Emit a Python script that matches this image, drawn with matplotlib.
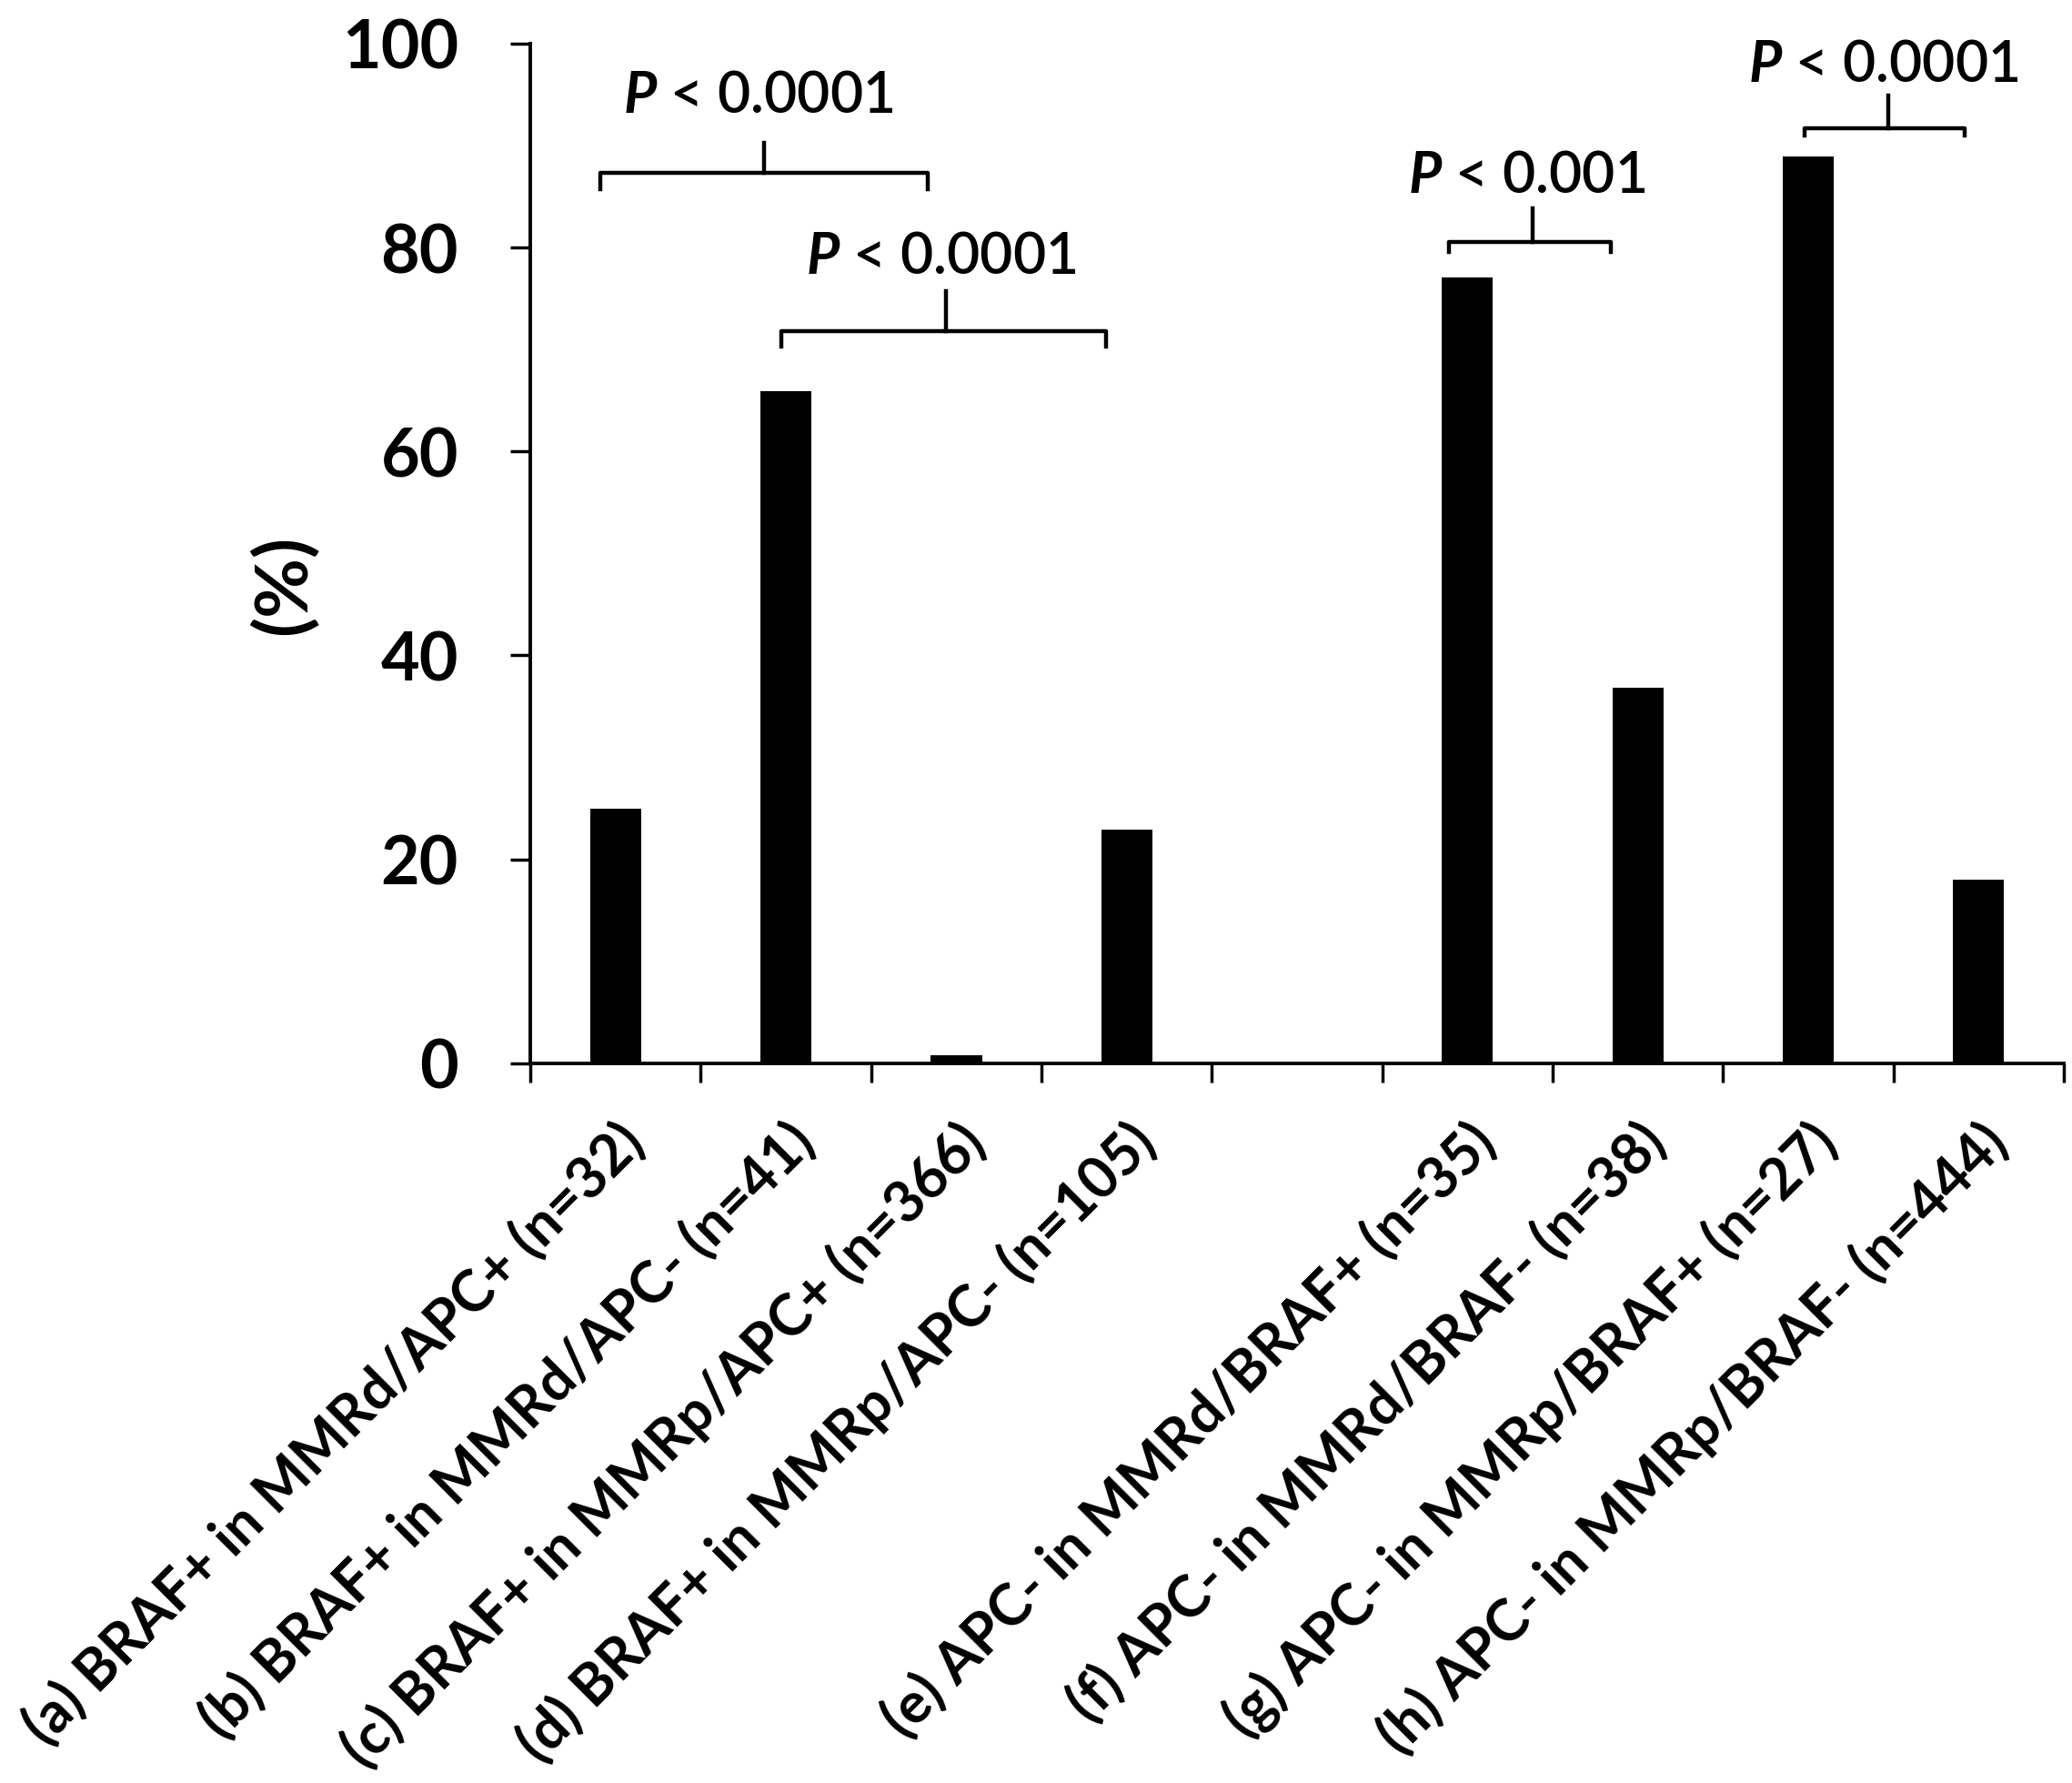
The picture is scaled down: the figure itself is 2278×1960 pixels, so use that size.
import numpy as np
import matplotlib.pyplot as plt

plt.rcParams['font.family'] = ['Lato', 'DejaVu Sans']
plt.rcParams['mathtext.fontset'] = 'custom'
plt.rcParams['mathtext.bfit'] = 'Lato:bold:italic'
plt.rcParams['mathtext.rm'] = 'Lato'

# categories (empty slot between the two groups)
labels = ['(a) BRAF+ in MMRd/APC+ (n=32)',
          '(b) BRAF+ in MMRd/APC- (n=41)',
          '(c) BRAF+ in MMRp/APC+ (n=366)',
          '(d) BRAF+ in MMRp/APC- (n=105)',
          '',
          '(e) APC- in MMRd/BRAF+ (n=35)',
          '(f) APC- in MMRd/BRAF- (n=38)',
          '(g) APC- in MMRp/BRAF+ (n=27)',
          '(h) APC- in MMRp/BRAF- (n=444)']
values = [25.0, 65.9, 0.8, 22.9, np.nan, 77.1, 36.8, 88.9, 18.0]

# significance brackets: x left, x right, x stem, y line, y ends, y stem top, y text, text
br_x0 = [-0.09, 0.97, 4.89, 6.98]
br_x1 = [1.83, 2.88, 5.84, 7.92]
br_xs = [0.87, 1.94, 5.38, 7.47]
br_y = [87.3, 71.8, 80.5, 91.7]
br_yend = [85.7, 70.3, 79.6, 91.0]
br_ytop = [90.3, 75.7, 83.8, 94.9]
br_ytxt = [94.8, 79.0, 87.0, 97.8]
br_txt = ['0.0001', '0.0001', '0.001', '0.0001']

fig = plt.figure(figsize=(22.78, 19.6), dpi=100)
ax = fig.add_axes([0.256, 0.4036, 0.740, 0.572])

x = np.arange(len(labels))
ax.bar(x, values, width=0.3, color='black')

for i in range(len(br_x0)):
    ax.plot([br_x0[i], br_x0[i], br_x1[i], br_x1[i]],
            [br_yend[i], br_y[i], br_y[i], br_yend[i]], color='black', lw=3.2)
    ax.plot([br_xs[i], br_xs[i]], [br_y[i], br_ytop[i]], color='black', lw=3.2)
    ax.text(br_xs[i] - 0.03, br_ytxt[i], r'$\mathbfit{P}$ < ' + br_txt[i],
            ha='center', va='center', fontsize=45, fontweight='semibold')

ax.set_xlim(-0.5, len(labels) - 0.5)
ax.set_ylim(0, 100)
ax.set_yticks([0, 20, 40, 60, 80, 100])
ax.set_xticks(np.arange(-0.5, len(labels), 1.0))
ax.set_xticklabels([])
ax.set_xticks(x, minor=True)
ax.set_xticklabels(labels, minor=True, rotation=45, ha='right',
                   rotation_mode='anchor', fontsize=45, fontweight='bold')
ax.tick_params(axis='x', which='minor', length=0, pad=40)
ax.tick_params(axis='x', which='major', length=15, width=2.5, direction='out')
ax.tick_params(axis='y', length=16, width=2.5, direction='out', labelsize=53, pad=41)
for t in ax.get_yticklabels():
    t.set_fontweight('bold')

ax.spines['top'].set_visible(False)
ax.spines['right'].set_visible(False)
ax.spines['left'].set_linewidth(2.8)
ax.spines['bottom'].set_linewidth(2.8)

ax.set_ylabel('(%)', fontsize=58, fontweight='bold')
ax.yaxis.set_label_coords(-0.138, 0.469)

fig.savefig('out.png', dpi=100)
